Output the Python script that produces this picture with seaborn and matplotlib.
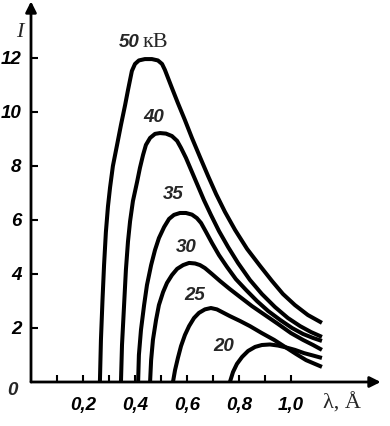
import pandas as pd
import seaborn as sns
import matplotlib.pyplot as plt

# wavelength (angstrom) and intensity, one pair of lists per voltage
lam_50 = [0.265, 0.269, 0.275, 0.281, 0.288, 0.296, 0.304, 0.315, 0.331, 0.346, 0.362, 0.373, 0.381, 0.388,
          0.400, 0.415, 0.438, 0.465, 0.488, 0.504, 0.515, 0.542, 0.565, 0.592, 0.619, 0.650, 0.681, 0.712,
          0.746, 0.785, 0.831, 0.881, 0.927, 0.969, 1.015, 1.065, 1.119]
I_50 = [0.0, 1.56, 3.04, 4.33, 5.55, 6.50, 7.20, 8.00, 8.78, 9.52, 10.26, 10.81, 11.19, 11.52,
        11.78, 11.91, 11.96, 11.96, 11.91, 11.78, 11.56, 10.89, 10.33, 9.70, 9.04, 8.33, 7.63, 6.96,
        6.30, 5.63, 4.93, 4.30, 3.74, 3.26, 2.85, 2.48, 2.19]

lam_40 = [0.346, 0.350, 0.358, 0.365, 0.373, 0.381, 0.392, 0.408, 0.419, 0.431, 0.442, 0.458, 0.477, 0.496,
          0.519, 0.542, 0.562, 0.577, 0.596, 0.619, 0.642, 0.665, 0.692, 0.723, 0.758, 0.796, 0.842, 0.888,
          0.938, 0.988, 1.035, 1.077, 1.119]
I_40 = [0.0, 1.37, 2.85, 4.15, 5.20, 5.95, 6.70, 7.41, 7.93, 8.41, 8.78, 9.04, 9.19, 9.22,
        9.20, 9.11, 8.93, 8.67, 8.30, 7.78, 7.26, 6.74, 6.19, 5.59, 5.0, 4.41, 3.78, 3.26,
        2.78, 2.37, 2.07, 1.85, 1.67]

lam_35 = [0.412, 0.415, 0.423, 0.435, 0.446, 0.462, 0.477, 0.492, 0.512, 0.531, 0.550, 0.573, 0.596, 0.619,
          0.638, 0.654, 0.673, 0.696, 0.723, 0.754, 0.788, 0.827, 0.869, 0.912, 0.958, 1.004, 1.046, 1.085,
          1.119]
I_35 = [0.0, 1.0, 1.93, 2.85, 3.59, 4.33, 4.89, 5.33, 5.74, 6.04, 6.19, 6.26, 6.26, 6.20,
        6.07, 5.89, 5.56, 5.15, 4.70, 4.26, 3.81, 3.41, 3.0, 2.63, 2.30, 2.0, 1.78, 1.63,
        1.52]

lam_30 = [0.458, 0.462, 0.469, 0.481, 0.492, 0.508, 0.523, 0.542, 0.562, 0.585, 0.608, 0.631, 0.650, 0.669,
          0.696, 0.727, 0.765, 0.804, 0.850, 0.900, 0.950, 1.000, 1.046, 1.085, 1.119]
I_30 = [0.0, 0.81, 1.56, 2.30, 2.85, 3.33, 3.67, 3.96, 4.19, 4.33, 4.41, 4.39, 4.33, 4.22,
        4.0, 3.74, 3.44, 3.15, 2.81, 2.48, 2.15, 1.81, 1.56, 1.37, 1.19]

lam_25 = [0.546, 0.554, 0.565, 0.577, 0.592, 0.608, 0.627, 0.646, 0.669, 0.692, 0.715, 0.735, 0.765, 0.804,
          0.842, 0.888, 0.935, 0.977, 1.019, 1.058, 1.092, 1.119]
I_25 = [0.0, 0.44, 0.89, 1.33, 1.74, 2.07, 2.37, 2.56, 2.69, 2.74, 2.69, 2.59, 2.44, 2.26,
        2.07, 1.81, 1.56, 1.30, 1.04, 0.81, 0.67, 0.56]

lam_20 = [0.765, 0.777, 0.792, 0.812, 0.835, 0.862, 0.888, 0.919, 0.950, 0.981, 1.015, 1.050, 1.085, 1.119]
I_20 = [0.0, 0.37, 0.67, 0.93, 1.15, 1.30, 1.37, 1.39, 1.35, 1.28, 1.19, 1.07, 0.98, 0.89]

voltages = [50, 40, 35, 30, 25, 20]
curve_lam = [lam_50, lam_40, lam_35, lam_30, lam_25, lam_20]
curve_I = [I_50, I_40, I_35, I_30, I_25, I_20]

curve_labels = ['50', '40', '35', '30', '25', '20']
label_lam = [0.377, 0.473, 0.546, 0.596, 0.631, 0.742]
label_I = [12.56, 9.81, 6.93, 5.0, 3.22, 1.30]

x_ticks = [0.1, 0.2, 0.3, 0.4, 0.5, 0.6, 0.7, 0.8, 0.9, 1.0]
x_labels = ['', '0,2', '', '0,4', '', '0,6', '', '0,8', '', '1,0']
y_ticks = [2, 4, 6, 8, 10, 12]
y_labels = ['2', '4', '6', '8', '10', '12']

rows = []
for v, ls, Is in zip(voltages, curve_lam, curve_I):
    for l, i in zip(ls, Is):
        rows.append((v, l, i))
df = pd.DataFrame(rows, columns=['kV', 'lam', 'I'])

sns.set_theme(style='white')
plt.rcParams['font.family'] = ['Liberation Sans', 'DejaVu Sans']

W, H = 390, 426
fig = plt.figure(figsize=(W / 100, H / 100), dpi=100)
xmax, ymax = 1.36, 14.1
ax = fig.add_axes([31 / W, 44 / H, xmax * 260 / W, ymax * 27 / H])

sns.lineplot(data=df, x='lam', y='I', units='kV', estimator=None, sort=False,
             color='black', linewidth=2.9, ax=ax)
for ln in ax.get_lines():
    ln.set_solid_joinstyle('round')
    ln.set_solid_capstyle('butt')

ax.set_xlim(0, xmax)
ax.set_ylim(0, ymax)
for s in ax.spines.values():
    s.set_visible(False)

# axes drawn as arrows
arrow = dict(arrowstyle='-|>', color='black', lw=2.0, mutation_scale=16, shrinkA=0, shrinkB=0)
ax.annotate('', xy=(1.345, 0), xytext=(0, 0), arrowprops=arrow, annotation_clip=False)
ax.annotate('', xy=(0, 14.1), xytext=(0, 0), arrowprops=arrow, annotation_clip=False)

ax.set_xticks(x_ticks)
ax.set_xticklabels(x_labels)
ax.set_yticks(y_ticks)
ax.set_yticklabels(y_labels)
tick_font = dict(fontsize=13.5, style='italic', weight='bold')
ax.tick_params(axis='both', direction='in', length=5, width=1.5, color='black',
               labelsize=13.5, labelcolor='black')
ax.tick_params(axis='x', pad=11, bottom=True)
ax.tick_params(axis='y', pad=7, left=True)
for t in ax.get_xticklabels() + ax.get_yticklabels():
    t.set_fontstyle('italic')
    t.set_fontweight('bold')
ax.set_xlabel('')
ax.set_ylabel('')

ax.text(-0.07, -0.3, '0', ha='center', va='center', clip_on=False, **tick_font)
ax.text(-0.042, 12.93, 'I', ha='center', va='center', fontsize=16, style='italic',
        family='Liberation Serif', clip_on=False)
ax.text(1.196, -0.8, 'λ, Å', ha='center', va='center', fontsize=16,
        family='Liberation Serif', clip_on=False)

for txt, lx, ly in zip(curve_labels, label_lam, label_I):
    ax.text(lx, ly, txt, ha='center', va='center', **tick_font)
ax.text(0.477, 12.56, 'кВ', ha='center', va='center', fontsize=16, family='Liberation Serif')

fig.savefig('out.png', dpi=100, facecolor='white')
